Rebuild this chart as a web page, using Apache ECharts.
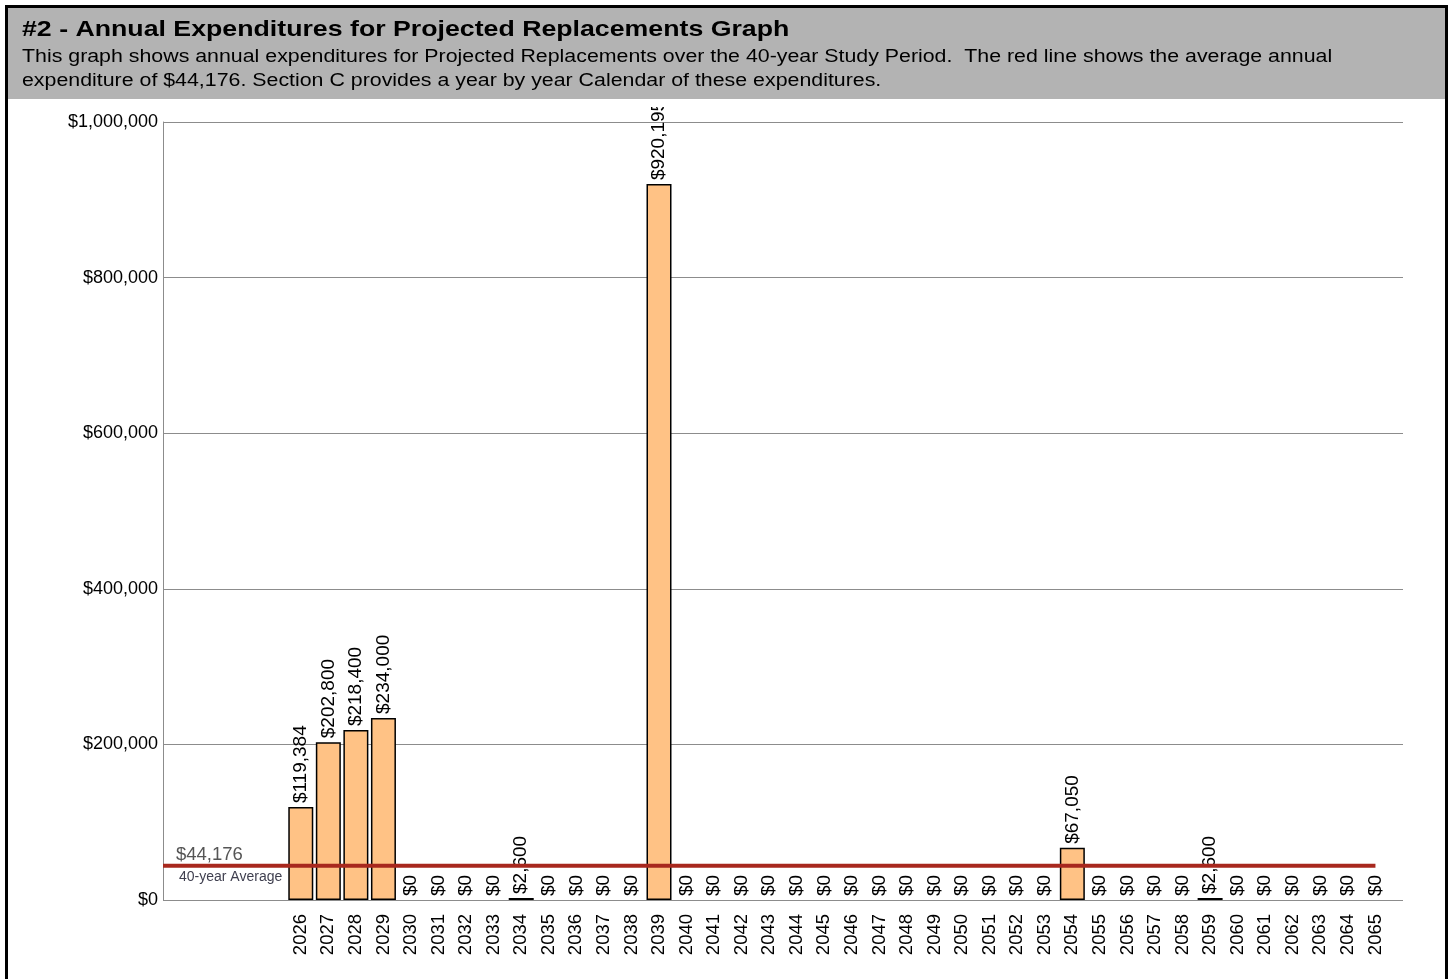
<!DOCTYPE html>
<html>
<head>
<meta charset="utf-8">
<title>Annual Expenditures for Projected Replacements</title>
<script src="https://cdn.jsdelivr.net/npm/echarts@6/dist/echarts.min.js"></script>
<style>
  html, body { margin: 0; padding: 0; background: #fff; }
  #chart { width: 1452px; height: 979px; }
</style>
</head>
<body>
<div id="chart"></div>
<script>
// Study years and projected replacement costs per year
const years = [];
for (let y = 2026; y <= 2065; y++) years.push(y);

const expenditures = [
  119384, 202800, 218400, 234000, 0, 0, 0, 0, 2600, 0,
  0, 0, 0, 920195, 0, 0, 0, 0, 0, 0,
  0, 0, 0, 0, 0, 0, 0, 0, 67050, 0,
  0, 0, 0, 2600, 0, 0, 0, 0, 0, 0
];

const averageAnnual = 44176;
const averageLabel = '40-year Average';

// Axis range: five empty slots before the first year and one after the last
const xMin = 2021;
const xMax = 2066;
const yTicks = [0, 200000, 400000, 600000, 800000, 1000000];

const titleText = '#2 - Annual Expenditures for Projected Replacements Graph';
const descLines = [
  'This graph shows annual expenditures for Projected Replacements over the 40-year Study Period.  The red line shows the average annual',
  'expenditure of $44,176. Section C provides a year by year Calendar of these expenditures.'
];

const money = v => '$' + Math.round(v).toLocaleString('en-US');
const FONT = '"Liberation Sans", Arial, sans-serif';

const chart = echarts.init(document.getElementById('chart'), null, { renderer: 'canvas' });

// Empty years get no outline so only real expenditures leave a mark on the baseline
const barData = years.map((y, i) => {
  const item = { value: [y, expenditures[i]] };
  if (expenditures[i] === 0) item.itemStyle = { borderWidth: 0 };
  return item;
});

const option = {
  animation: false,
  backgroundColor: '#fff',
  textStyle: { fontFamily: FONT },
  grid: { left: 163, right: 49, top: 122, bottom: 79, containLabel: false },
  xAxis: {
    type: 'value',
    min: xMin,
    max: xMax,
    interval: 1,
    axisLine: { show: false },
    axisTick: { show: false },
    splitLine: { show: false },
    axisLabel: {
      rotate: 90,
      margin: 14,
      fontSize: 18.5,
      color: '#000',
      fontFamily: FONT,
      showMinLabel: true,
      showMaxLabel: true,
      formatter: v => (years.indexOf(v) >= 0 ? String(v) : '')
    }
  },
  yAxis: {
    type: 'value',
    min: yTicks[0],
    max: yTicks[yTicks.length - 1],
    interval: yTicks[1] - yTicks[0],
    axisLine: { show: true, lineStyle: { color: '#8c8c8c', width: 1 } },
    axisTick: { show: false },
    splitLine: { show: true, lineStyle: { color: '#8c8c8c', width: 1 } },
    axisLabel: {
      margin: 5,
      fontSize: 18,
      color: '#000',
      fontFamily: FONT,
      formatter: v => money(v)
    }
  },
  series: [
    {
      type: 'bar',
      data: barData,
      barWidth: 25,
      itemStyle: { color: '#FFC285', borderColor: '#000', borderWidth: 1.5 },
      label: {
        show: true,
        position: 'top',
        rotate: 90,
        distance: 4,
        align: 'left',
        verticalAlign: 'middle',
        fontSize: 19,
        color: '#000',
        fontFamily: FONT,
        formatter: p => money(p.value[1])
      },
      z: 2
    },
    {
      type: 'line',
      data: [[xMin, averageAnnual], [2065, averageAnnual]],
      symbol: 'none',
      lineStyle: { color: '#A8281E', width: 4 },
      silent: true,
      z: 5
    }
  ]
};

chart.setOption(option);

// Header band, frame and the average-line captions
const avgPt = chart.convertToPixel({ gridIndex: 0 }, [xMin, averageAnnual]);

chart.setOption({
  graphic: [
    {
      // blank margin under the header; tall labels are cut off here
      type: 'rect',
      z: 99,
      shape: { x: 8, y: 98, width: 1437, height: 9 },
      style: { fill: '#fff' }
    },
    {
      type: 'rect',
      z: 100,
      shape: { x: 8, y: 8, width: 1437, height: 91 },
      style: { fill: '#B3B3B3' }
    },
    {
      type: 'text',
      z: 101,
      x: 22, y: 30, scaleX: 1.214,
      style: {
        x: 0, y: 0, text: titleText,
        font: 'bold 22px ' + FONT, fill: '#000', verticalAlign: 'middle'
      }
    },
    {
      type: 'text',
      z: 101,
      x: 22, y: 57, scaleX: 1.22,
      style: {
        x: 0, y: 0, text: descLines[0],
        font: '17.5px ' + FONT, fill: '#000', verticalAlign: 'middle'
      }
    },
    {
      type: 'text',
      z: 101,
      x: 22, y: 81, scaleX: 1.22,
      style: {
        x: 0, y: 0, text: descLines[1],
        font: '17.5px ' + FONT, fill: '#000', verticalAlign: 'middle'
      }
    },
    {
      type: 'rect',
      z: 102,
      shape: { x: 6.5, y: 6.5, width: 1440, height: 990 },
      style: { fill: 'none', stroke: '#000', lineWidth: 3 }
    },
    {
      type: 'text',
      z: 10,
      style: {
        x: avgPt[0] + 13, y: avgPt[1] - 11, text: money(averageAnnual),
        font: '18.5px ' + FONT, fill: '#555', verticalAlign: 'middle'
      }
    },
    {
      type: 'text',
      z: 10,
      style: {
        x: avgPt[0] + 16, y: avgPt[1] + 12, text: averageLabel,
        font: '14px ' + FONT, fill: '#3f3f4f', verticalAlign: 'middle'
      }
    }
  ]
});
</script>
</body>
</html>
